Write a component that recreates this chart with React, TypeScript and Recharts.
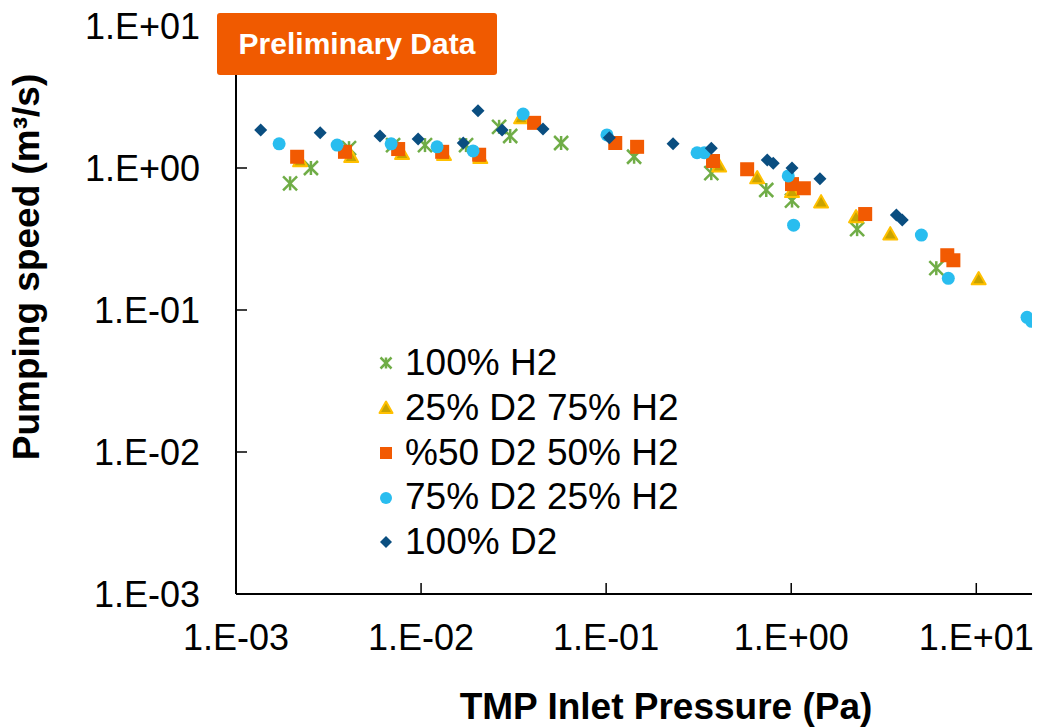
import React from 'react';
import { ScatterChart, Scatter, XAxis, YAxis, Legend } from 'recharts';

// ---------- data ----------
const seriesNames = ['100% H2', '25% D2 75% H2', '%50 D2 50% H2', '75% D2 25% H2', '100% D2'];

const h2X = [0.00196, 0.00254, 0.00408, 0.00706, 0.0105, 0.0175, 0.0264, 0.0303, 0.0571, 0.1416, 0.37, 0.733, 1.01, 2.27, 6.08];
const h2Y = [0.78, 1.0, 1.38, 1.45, 1.45, 1.45, 1.95, 1.68, 1.5, 1.2, 0.92, 0.7, 0.59, 0.371, 0.197];

const d25X = [0.00222, 0.00419, 0.00789, 0.0133, 0.0209, 0.0347, 0.408, 0.655, 1.01, 1.45, 2.24, 3.43, 10.3];
const d25Y = [1.12, 1.2, 1.26, 1.24, 1.18, 2.25, 1.03, 0.85, 0.68, 0.575, 0.451, 0.342, 0.165];

const d50X = [0.00214, 0.00388, 0.00752, 0.013, 0.0206, 0.0408, 0.112, 0.147, 0.378, 0.578, 1.01, 1.17, 2.51, 6.97, 7.52];
const d50Y = [1.2, 1.3, 1.36, 1.3, 1.24, 2.08, 1.5, 1.41, 1.12, 0.98, 0.77, 0.72, 0.474, 0.243, 0.224];

const d75X = [0.00171, 0.00352, 0.00689, 0.0122, 0.0191, 0.0356, 0.101, 0.31, 0.339, 0.964, 1.03, 5.05, 7.06, 18.8, 19.9];
const d75Y = [1.48, 1.45, 1.48, 1.41, 1.32, 2.4, 1.71, 1.28, 1.28, 0.88, 0.396, 0.337, 0.167, 0.0888, 0.0832];

const d2X = [0.00136, 0.00285, 0.006, 0.00964, 0.0169, 0.0203, 0.0274, 0.0456, 0.104, 0.23, 0.37, 0.742, 0.8, 1.01, 1.43, 3.7, 3.98];
const d2Y = [1.85, 1.77, 1.68, 1.6, 1.5, 2.53, 1.85, 1.88, 1.63, 1.48, 1.38, 1.14, 1.08, 1.0, 0.84, 0.466, 0.43];

const xTicks = [0.001, 0.01, 0.1, 1, 10];
const xTickLabels = ['1.E-03', '1.E-02', '1.E-01', '1.E+00', '1.E+01'];
const yTicks = [0.001, 0.01, 0.1, 1, 10];
const yTickLabels = ['1.E-03', '1.E-02', '1.E-01', '1.E+00', '1.E+01'];

const zip = (xs: number[], ys: number[]) => xs.map((x, i) => ({ x, y: ys[i] }));

// ---------- styles ----------
const FONT = '"Liberation Sans", Arial, Helvetica, sans-serif';
const GREEN = '#70AD47';
const TRI_FILL = '#C9A300';
const TRI_STROKE = '#FFC000';
const ORANGE = '#F25A02';
const CYAN = '#29BDEF';
const NAVY = '#0A4E80';

type ShapeProps = { cx?: number; cy?: number };

const Asterisk = ({ cx = 0, cy = 0, s = 7 }: ShapeProps & { s?: number }) => (
  <g stroke={GREEN} strokeWidth={2.5} strokeLinecap="butt">
    <line x1={cx} y1={cy - s} x2={cx} y2={cy + s} />
    <line x1={cx - s} y1={cy - s} x2={cx + s} y2={cy + s} />
    <line x1={cx - s} y1={cy + s} x2={cx + s} y2={cy - s} />
  </g>
);

const Triangle = ({ cx = 0, cy = 0, s = 7 }: ShapeProps & { s?: number }) => (
  <polygon
    points={`${cx},${cy - s} ${cx - s},${cy + s * 0.75} ${cx + s},${cy + s * 0.75}`}
    fill={TRI_FILL}
    stroke={TRI_STROKE}
    strokeWidth={2}
    strokeLinejoin="round"
  />
);

const Square = ({ cx = 0, cy = 0, s = 7 }: ShapeProps & { s?: number }) => (
  <rect x={cx - s} y={cy - s} width={2 * s} height={2 * s} fill={ORANGE} />
);

const Circle = ({ cx = 0, cy = 0, s = 6.5 }: ShapeProps & { s?: number }) => (
  <circle cx={cx} cy={cy} r={s} fill={CYAN} />
);

const Diamond = ({ cx = 0, cy = 0, s = 6.5 }: ShapeProps & { s?: number }) => (
  <polygon points={`${cx},${cy - s} ${cx + s},${cy} ${cx},${cy + s} ${cx - s},${cy}`} fill={NAVY} />
);

const legendIcons = [
  <Asterisk cx={10} cy={10} s={5.5} />,
  <Triangle cx={10} cy={10} s={6.5} />,
  <Square cx={10} cy={10} s={6} />,
  <Circle cx={10} cy={10} s={6} />,
  <Diamond cx={10} cy={10} s={6} />,
];

const renderLegend = () => (
  <div style={{ fontFamily: FONT, fontSize: 37, color: '#000' }}>
    {seriesNames.map((name, i) => (
      <div key={name} style={{ display: 'flex', alignItems: 'center', height: 44.75, lineHeight: '44.75px', whiteSpace: 'nowrap' }}>
        <svg width={20} height={20} style={{ marginRight: 9, flex: 'none' }}>
          {legendIcons[i]}
        </svg>
        <span>{name}</span>
      </div>
    ))}
  </div>
);

const XTitle = () => (
  <text x={666} y={719} textAnchor="middle" fontFamily={FONT} fontWeight="bold" fontSize={37} fill="#000">
    TMP Inlet Pressure (Pa)
  </text>
);

const YTitle = () => (
  <text
    x={39}
    y={267}
    transform="rotate(-90, 39, 267)"
    textAnchor="middle"
    fontFamily={FONT}
    fontWeight="bold"
    fontSize={37}
    fill="#000"
  >
    Pumping speed (m³/s)
  </text>
);

export default function App() {
  const tickStyle = { fill: '#000', fontSize: 36, fontFamily: FONT };
  return (
    <div style={{ position: 'absolute', left: 0, top: 0, width: 1040, height: 728, background: '#fff' }}>
      <ScatterChart width={1040} height={728} margin={{ top: 26, right: 8, bottom: 0, left: 0 }}>
        <XAxis
          type="number"
          dataKey="x"
          scale="log"
          domain={[0.001, 20]}
          ticks={xTicks}
          tickFormatter={(_v: number, i: number) => xTickLabels[i]}
          height={134}
          tick={tickStyle}
          tickSize={-11}
          tickMargin={41}
          axisLine={{ stroke: '#000', strokeWidth: 2 }}
          tickLine={{ stroke: '#000', strokeWidth: 1.5 }}
          interval={0}
          allowDataOverflow
          label={<XTitle />}
        />
        <YAxis
          type="number"
          dataKey="y"
          scale="log"
          domain={[0.001, 10]}
          ticks={yTicks}
          tickFormatter={(_v: number, i: number) => yTickLabels[i]}
          width={236}
          tick={tickStyle}
          tickSize={-11}
          tickMargin={47}
          axisLine={{ stroke: '#000', strokeWidth: 2 }}
          tickLine={{ stroke: '#000', strokeWidth: 1.5 }}
          interval={0}
          allowDataOverflow
          label={<YTitle />}
        />
        <Legend
          layout="vertical"
          align="center"
          verticalAlign="middle"
          content={renderLegend}
          wrapperStyle={{ left: 376, top: 341, width: 'auto', height: 'auto' }}
        />
        <Scatter name={seriesNames[0]} data={zip(h2X, h2Y)} fill={GREEN} shape={(p: any) => <Asterisk cx={p.cx} cy={p.cy} />} isAnimationActive={false} />
        <Scatter name={seriesNames[1]} data={zip(d25X, d25Y)} fill={TRI_STROKE} shape={(p: any) => <Triangle cx={p.cx} cy={p.cy} />} isAnimationActive={false} />
        <Scatter name={seriesNames[2]} data={zip(d50X, d50Y)} fill={ORANGE} shape={(p: any) => <Square cx={p.cx} cy={p.cy} />} isAnimationActive={false} />
        <Scatter name={seriesNames[3]} data={zip(d75X, d75Y)} fill={CYAN} shape={(p: any) => <Circle cx={p.cx} cy={p.cy} />} isAnimationActive={false} />
        <Scatter name={seriesNames[4]} data={zip(d2X, d2Y)} fill={NAVY} shape={(p: any) => <Diamond cx={p.cx} cy={p.cy} />} isAnimationActive={false} />
      </ScatterChart>
      <div
        style={{
          position: 'absolute',
          left: 217,
          top: 13,
          width: 280,
          height: 62,
          background: '#F05A00',
          borderRadius: 3,
          color: '#fff',
          fontFamily: FONT,
          fontWeight: 'bold',
          fontSize: 30,
          display: 'flex',
          alignItems: 'center',
          justifyContent: 'center',
        }}
      >
        Preliminary Data
      </div>
    </div>
  );
}
